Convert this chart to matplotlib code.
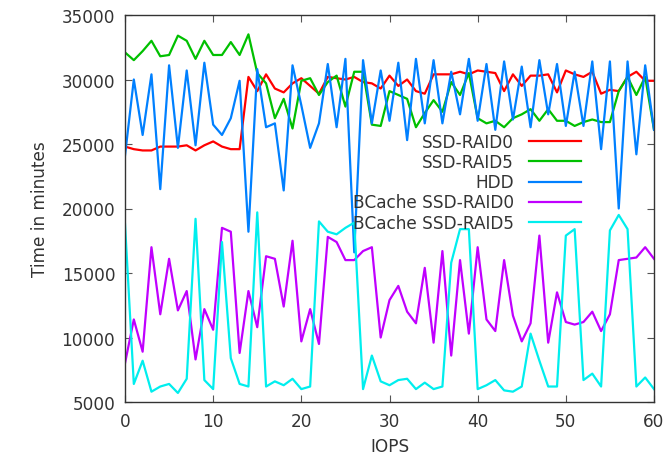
import numpy as np
import matplotlib
matplotlib.use('Agg')
import matplotlib.pyplot as plt

iops = np.arange(0, 61)

ssd_raid0 = [24800, 24600, 24500, 24500, 24800, 24800, 24800, 24900, 24500, 24900,
             25200, 24800, 24600, 24600, 30200, 29100, 30400, 29300, 29000, 29700,
             30100, 29500, 28900, 30200, 30100, 30000, 30200, 29800, 29700, 29300,
             30300, 29500, 30000, 29100, 28900, 30400, 30400, 30400, 30600, 30400,
             30700, 30600, 30500, 29100, 30400, 29500, 30300, 30300, 30400, 29000,
             30700, 30400, 30200, 30600, 28900, 29200, 29100, 30200, 30600, 29900,
             29900]
ssd_raid5 = [32100, 31500, 32200, 33000, 31800, 31900, 33400, 33000, 31600, 33000,
             31900, 31900, 32900, 31900, 33500, 30500, 29700, 27000, 28500, 26200,
             29900, 30100, 28800, 29800, 30300, 27900, 30600, 30600, 26500, 26400,
             29100, 28800, 28500, 26300, 27400, 28400, 27500, 29800, 28800, 30500,
             27000, 26600, 26800, 26300, 27000, 27300, 27700, 26800, 27700, 26800,
             26800, 26400, 26700, 26900, 26700, 26700, 29100, 30200, 28800, 30200,
             26100]
hdd = [24100, 30000, 25700, 30400, 21500, 31100, 24700, 30700, 24900, 31300,
       26500, 25700, 27000, 29900, 18200, 30800, 26300, 26600, 21400, 31100,
       28000, 24700, 26600, 31200, 26300, 31600, 16600, 31500, 26600, 30700,
       26800, 31300, 25300, 31600, 26600, 31500, 26600, 30600, 27300, 31600,
       26800, 31200, 26100, 31400, 26900, 31000, 26300, 31500, 27300, 31200,
       26400, 30600, 26400, 31400, 24600, 31400, 20000, 31400, 24200, 31100,
       26100]
bcache_raid0 = [8000, 11400, 8900, 17000, 11800, 16100, 12100, 13600, 8300, 12200,
                10600, 18500, 18200, 8800, 13600, 10800, 16300, 16100, 12400, 17500,
                9700, 12200, 9500, 17800, 17400, 16000, 16000, 16700, 17000, 10000,
                12900, 14000, 12000, 11100, 15400, 9600, 16700, 8600, 16000, 10300,
                17000, 11400, 10500, 16000, 11700, 9700, 11100, 17900, 9600, 13500,
                11200, 11000, 11200, 12000, 10500, 11800, 16000, 16100, 16200, 17000,
                16100]
bcache_raid5 = [18800, 6400, 8200, 5800, 6200, 6400, 5700, 6800, 19200, 6700,
                6000, 17400, 8400, 6400, 6200, 19700, 6200, 6600, 6300, 6800,
                6000, 6200, 19000, 18200, 18000, 18500, 18900, 6000, 8600, 6600,
                6300, 6700, 6800, 6000, 6500, 6000, 6200, 15800, 18400, 18400,
                6000, 6300, 6700, 5900, 5800, 6200, 10300, 8200, 6200, 6200,
                17900, 18400, 6700, 7200, 6200, 18300, 19500, 18400, 6200, 6900,
                6000]

series = [('SSD-RAID0', ssd_raid0, '#ff0000'),
          ('SSD-RAID5', ssd_raid5, '#00c000'),
          ('HDD', hdd, '#0080ff'),
          ('BCache SSD-RAID0', bcache_raid0, '#c000ff'),
          ('BCache SSD-RAID5', bcache_raid5, '#00eeee')]

txt = '#333333'
fs = 12.2
fig = plt.figure(figsize=(6.64, 4.6), dpi=100)
ax = fig.add_axes([125 / 664, 57 / 460, 529 / 664, 387 / 460])

for label, vals, color in series:
    ax.plot(iops, vals, color=color, lw=1.6, label=label)

ax.set_xlim(0, 60)
ax.set_ylim(5000, 35000)
ax.set_xticks(range(0, 61, 10))
ax.set_yticks(range(5000, 35001, 5000))
ax.tick_params(direction='in', length=5, top=True, right=True,
               labelsize=fs, labelcolor=txt, color='#555555', pad=7)
for s in ax.spines.values():
    s.set_color('#333333')
    s.set_linewidth(1.0)

ax.set_xlabel('IOPS', fontsize=fs, color=txt, labelpad=5)
ax.set_ylabel('Time in minutes', fontsize=fs, color=txt, labelpad=9)

# gnuplot-style key: right-aligned labels with the line sample after them
leg = ax.legend(loc='upper right', bbox_to_anchor=(0.878, 0.716), frameon=False,
                markerfirst=False, fontsize=fs, handlelength=3.05,
                handletextpad=0.9, labelspacing=0.12, borderpad=0)
for col in leg._legend_handle_box.get_children():
    col.align = 'right'
for t in leg.get_texts():
    t.set_color(txt)

plt.savefig('out.png', dpi=100)
